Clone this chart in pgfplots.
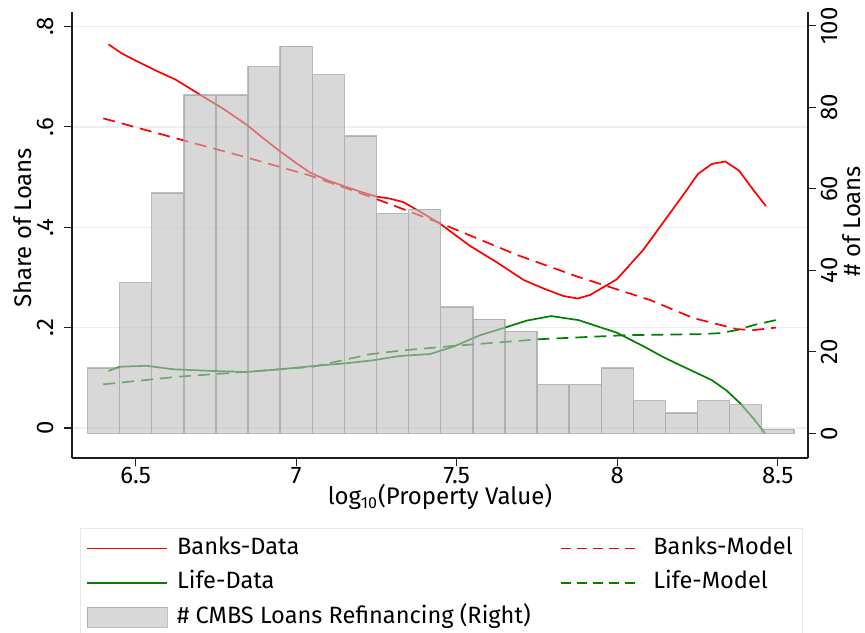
\documentclass[border=0pt]{standalone}
\usepackage{fontspec}
\setmainfont{Fira Sans}
\usepackage{pgfplots}
\pgfplotsset{compat=1.18}
\definecolor{gridc}{RGB}{232,240,242}
\definecolor{axisc}{RGB}{30,30,30}
\definecolor{barc}{RGB}{190,190,190}
\definecolor{baredge}{RGB}{150,150,150}
\definecolor{lgreen}{RGB}{0,128,0}
\definecolor{lred}{RGB}{255,0,0}
\definecolor{legc}{RGB}{228,234,236}
\newcommand{\labsize}{\fontsize{12}{14}\selectfont}
\newcommand{\legsize}{\fontsize{11.8}{14}\selectfont}
\newcommand{\ticksize}{\fontsize{12}{14}\selectfont}
\pgfplotsset{
  linelegend/.style={legend image code/.code={\draw[##1] (0pt,0pt) -- (40pt,0pt);}},
  barlegend/.style={legend image code/.code={\draw[##1] (0pt,-5pt) rectangle (40pt,5pt);}},
}
\begin{document}
\begin{tikzpicture}
\path[use as bounding box] (-36pt,-87pt) rectangle (396.5pt,229pt);
\begin{axis}[
  scale only axis, width=368pt, height=223pt,
  xmin=6.3016, xmax=8.594, ymin=-0.0598, ymax=0.8289,
  axis x line*=bottom, axis y line*=left,
  xtick={6.5,7,7.5,8,8.5},
  ytick={0,0.2,0.4,0.6,0.8}, yticklabels={0,.2,.4,.6,.8},
  tick align=outside, major tick length=4pt,
  ymajorgrids, grid style={gridc, line width=0.7pt},
  axis line style={axisc, line width=0.6pt},
  tick style={axisc, line width=0.6pt},
  /pgf/number format/assume math mode=true,
  x tick label style={font=\ticksize, inner sep=0.5pt},
  y tick label style={font=\ticksize, rotate=90, anchor=south, inner sep=5pt},
  xlabel={log\textsubscript{10}(Property Value)},
  ylabel={Share of Loans},
  every axis x label/.style={at={(axis description cs:0.5,-0.088)}, anchor=center, font=\labsize},
  every axis y label/.style={at={(axis description cs:-0.0666,0.516)}, rotate=90, anchor=center, font=\labsize},
]
% Banks-Data
\addplot[lred, line width=0.85pt] coordinates {
(6.415,0.7645) (6.456,0.7466) (6.503,0.731) (6.570,0.710) (6.622,0.695)
(6.711,0.660) (6.773,0.636) (6.846,0.604) (6.898,0.577) (6.950,0.551)
(7.002,0.527) (7.043,0.509) (7.095,0.494) (7.157,0.480) (7.209,0.469)
(7.251,0.461) (7.292,0.457) (7.334,0.450) (7.386,0.431) (7.448,0.407)
(7.541,0.363) (7.625,0.330) (7.708,0.295) (7.770,0.278) (7.832,0.263)
(7.877,0.258) (7.915,0.265) (7.998,0.296) (8.081,0.355) (8.164,0.428)
(8.216,0.474) (8.251,0.506) (8.294,0.526) (8.336,0.531) (8.379,0.513)
(8.424,0.474) (8.463,0.442)};
% Banks-Model
\addplot[lred, line width=0.85pt, dash pattern=on 6pt off 3.5pt] coordinates {
(6.399,0.617) (6.638,0.575) (6.846,0.539) (7.043,0.503) (7.230,0.461)
(7.453,0.407) (7.687,0.345) (7.874,0.302) (8.102,0.255) (8.237,0.219)
(8.372,0.197) (8.424,0.195) (8.494,0.200)};
% Life-Data
\addplot[lgreen, line width=0.85pt] coordinates {
(6.415,0.1136) (6.451,0.122) (6.534,0.124) (6.617,0.117) (6.742,0.1136)
(6.846,0.1116) (6.950,0.117) (7.053,0.1235) (7.157,0.129) (7.240,0.135)
(7.323,0.1435) (7.417,0.1474) (7.489,0.162) (7.573,0.185) (7.645,0.199)
(7.718,0.214) (7.794,0.223) (7.879,0.215) (7.998,0.190) (8.081,0.163)
(8.144,0.141) (8.206,0.122) (8.294,0.0956) (8.341,0.0743) (8.383,0.049)
(8.424,0.019) (8.460,-0.0106)};
% Life-Model
\addplot[lgreen, line width=0.85pt, dash pattern=on 6pt off 3.5pt] coordinates {
(6.399,0.087) (6.628,0.102) (6.846,0.112) (7.053,0.122) (7.230,0.147)
(7.323,0.154) (7.479,0.163) (7.760,0.177) (8.030,0.185) (8.258,0.187)
(8.320,0.189) (8.372,0.195) (8.424,0.205) (8.494,0.215)};
\end{axis}
\begin{axis}[
  scale only axis, width=368pt, height=223pt,
  xmin=6.3016, xmax=8.594, ymin=-6.06, ymax=103.4,
  axis x line=none, axis y line*=right,
  ytick={0,20,40,60,80,100},
  tick align=outside, major tick length=4pt,
  axis line style={axisc, line width=0.6pt},
  tick style={axisc, line width=0.6pt},
  /pgf/number format/assume math mode=true,
  y tick label style={font=\ticksize, rotate=90, anchor=north, inner sep=2.5pt},
  ylabel={\# of Loans},
  every axis y label/.style={at={(axis description cs:1.0595,0.531)}, rotate=90, anchor=center, inner sep=0pt, font=\labsize},
  legend columns=2,
  legend cell align=left,
  legend style={at={(axis description cs:0.0109,-0.157)}, anchor=north west,
    draw=legc, fill=white, font=\legsize, inner xsep=3pt, inner ysep=3pt,
    row sep=3pt,
    nodes={inner sep=2pt, text height=8pt, text depth=2.2pt},
    /tikz/column 1/.style={column sep=2.5pt},
    /tikz/column 2/.style={column sep=12.5pt},
    /tikz/column 3/.style={column sep=4pt}},
]
\addlegendimage{lred, line width=0.85pt, linelegend}
\addlegendentry{Banks-Data}
\addlegendimage{lred, line width=0.85pt, dash pattern=on 5pt off 3pt, linelegend}
\addlegendentry{Banks-Model}
\addlegendimage{lgreen, line width=0.85pt, linelegend}
\addlegendentry{Life-Data}
\addlegendimage{lgreen, line width=0.85pt, dash pattern=on 5pt off 3pt, linelegend}
\addlegendentry{Life-Model}
\addplot[ybar, bar width=0.1, fill=barc, fill opacity=0.6, draw=baredge, draw opacity=0.6,
  line width=0.7pt, area legend, barlegend] coordinates {
(6.4,16) (6.5,37) (6.6,59) (6.7,83) (6.8,83) (6.9,90) (7.0,95) (7.1,88)
(7.2,73) (7.3,54) (7.4,55) (7.5,31) (7.6,28) (7.7,25) (7.8,12) (7.9,12)
(8.0,16) (8.1,8) (8.2,5) (8.3,8) (8.4,7) (8.5,1)};
\addlegendentry{\# CMBS Loans Refinancing (Right)}
\end{axis}
\end{tikzpicture}
\end{document}
